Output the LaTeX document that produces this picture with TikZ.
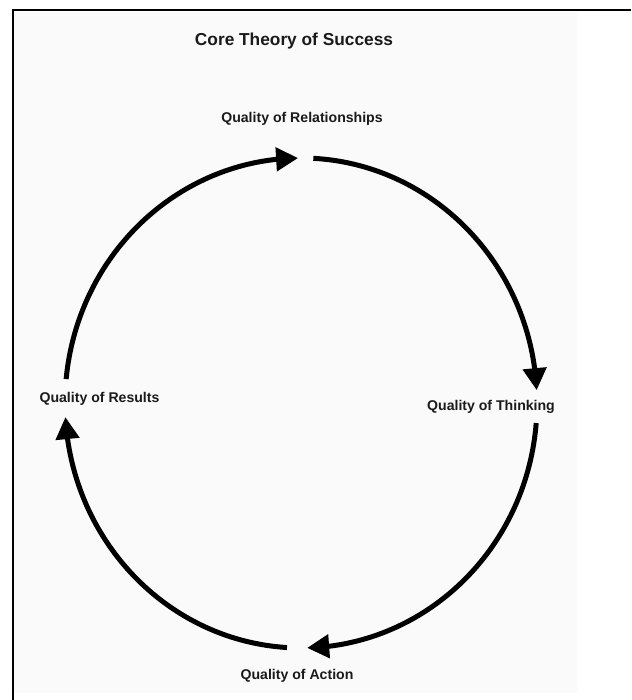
\documentclass[tikz,border=0pt]{standalone}
\usepackage{fontspec}
\setmainfont{Liberation Sans}
\usetikzlibrary{arrows.meta,bending,calc}
\definecolor{panel}{HTML}{FAFAFA}
\definecolor{ink}{HTML}{1A1A1A}
\tikzset{
  lbl/.style={font=\bfseries\fontsize{14.1}{16}\selectfont, text=ink, inner sep=0pt},
  ttl/.style={font=\bfseries\fontsize{17.3}{20}\selectfont, text=ink, inner sep=0pt},
  flow/.style={line width=5pt, -{Triangle[length=22pt,width=23pt,flex]}}
}
\begin{document}
\begin{tikzpicture}[x=1pt,y=1pt]
\useasboundingbox (0,0) rectangle (631,700);
\fill[white] (0,0) rectangle (631,700);
\fill[panel] (14,7) rectangle (577,688);
\draw[line width=2pt] (631,689.5) -- (12.5,689.5) -- (12.5,0);
\node[ttl] (title) at (294,659) {Core Theory of Success};
\node[lbl] (rel) at (302,581) {Quality of Relationships};
\node[lbl] (thk) at (491,293) {Quality of Thinking};
\node[lbl] (res) at (99.5,301) {Quality of Results};
\node[lbl] (act) at (297,24) {Quality of Action};
\coordinate (c) at (301,297);
\coordinate (a1) at ($(c)+(87:236 and 245)$);
\coordinate (a2) at ($(c)+(-4.7:236 and 245)$);
\coordinate (a3) at ($(c)+(266.6:236 and 245)$);
\coordinate (a4) at ($(c)+(174.4:236 and 245)$);
\draw[flow] (a1) arc[start angle=87, end angle=3, x radius=236, y radius=245];
\draw[flow] (a2) arc[start angle=-4.7, end angle=-88.5, x radius=236, y radius=245];
\draw[flow] (a3) arc[start angle=266.6, end angle=183.3, x radius=236, y radius=245];
\draw[flow] (a4) arc[start angle=174.4, end angle=90.7, x radius=236, y radius=245];
\end{tikzpicture}
\end{document}
